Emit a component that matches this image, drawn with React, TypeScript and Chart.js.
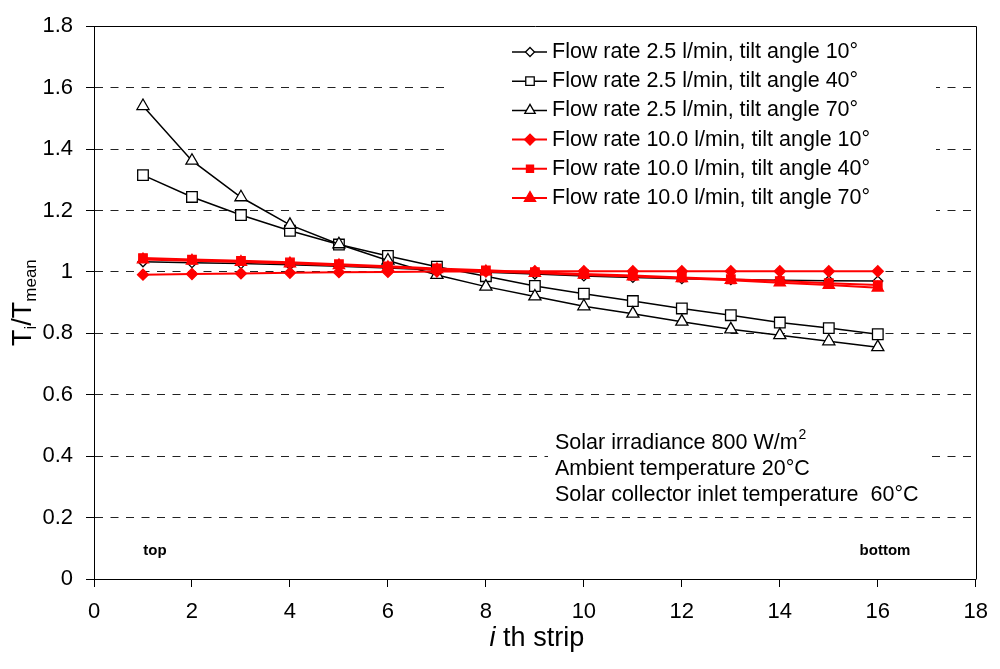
import React, { useEffect, useRef } from 'react';
import { Chart, registerables } from 'chart.js';
import { drawPoint } from 'chart.js/helpers';

Chart.register(...registerables);

const FONT = '"Liberation Sans", Arial, Helvetica, sans-serif';

// ---- data ----
const strips = [1, 2, 3, 4, 5, 6, 7, 8, 9, 10, 11, 12, 13, 14, 15, 16];
const flow25tilt10 = [1.033, 1.03, 1.027, 1.023, 1.018, 1.013, 1.006, 0.999, 0.993, 0.987, 0.982, 0.978, 0.975, 0.973, 0.971, 0.97];
const flow25tilt40 = [1.315, 1.244, 1.185, 1.134, 1.089, 1.052, 1.017, 0.986, 0.954, 0.929, 0.905, 0.881, 0.859, 0.835, 0.817, 0.797];
const flow25tilt70 = [1.54, 1.362, 1.243, 1.153, 1.09, 1.037, 0.99, 0.952, 0.92, 0.888, 0.864, 0.838, 0.813, 0.794, 0.774, 0.755];
const flow10tilt10 = [0.991, 0.993, 0.995, 0.997, 0.999, 1.0, 1.001, 1.001, 1.002, 1.002, 1.002, 1.002, 1.002, 1.002, 1.002, 1.002];
const flow10tilt40 = [1.045, 1.04, 1.036, 1.031, 1.025, 1.018, 1.011, 1.005, 0.999, 0.993, 0.988, 0.982, 0.976, 0.97, 0.963, 0.957];
const flow10tilt70 = [1.04, 1.036, 1.032, 1.027, 1.021, 1.015, 1.008, 1.001, 0.996, 0.99, 0.985, 0.979, 0.973, 0.965, 0.957, 0.948];

const seriesLabels = [
  'Flow rate 2.5 l/min, tilt angle 10°',
  'Flow rate 2.5 l/min, tilt angle 40°',
  'Flow rate 2.5 l/min, tilt angle 70°',
  'Flow rate 10.0 l/min, tilt angle 10°',
  'Flow rate 10.0 l/min, tilt angle 40°',
  'Flow rate 10.0 l/min, tilt angle 70°',
];
const seriesValues = [flow25tilt10, flow25tilt40, flow25tilt70, flow10tilt10, flow10tilt40, flow10tilt70];
const seriesStyles = ['rectRot', 'rect', 'triangle', 'rectRot', 'rect', 'triangle'];
const seriesRadius = [5, 7.5, 7, 5.5, 6, 6.5];
const legendRadius = [4.5, 6, 6, 5.5, 5, 6.5];
const seriesLine = ['#000000', '#000000', '#000000', '#ff0000', '#ff0000', '#ff0000'];
const seriesFill = ['#ffffff', '#ffffff', '#ffffff', '#ff0000', '#ff0000', '#ff0000'];

const annotationLines = ['Solar irradiance 800 W/m', 'Ambient temperature 20°C', 'Solar collector inlet temperature  60°C'];
const xTitleItalic = 'i';
const xTitleRest = ' th strip';
const topLabel = 'top';
const bottomLabel = 'bottom';

const overlayPlugin = {
  id: 'overlay',
  beforeDatasetsDraw(chart: any) {
    const { ctx, chartArea } = chart;
    ctx.save();
    // white boxes behind legend and note
    ctx.fillStyle = '#ffffff';
    ctx.fillRect(448, 28, 488, 190);
    ctx.fillRect(548, 428, 384, 78);
    // plot frame
    ctx.strokeStyle = '#000';
    ctx.lineWidth = 1;
    ctx.setLineDash([]);
    ctx.beginPath();
    const l = Math.round(chartArea.left) + 0.5;
    const r = Math.round(chartArea.right) + 0.5;
    const t = Math.round(chartArea.top) + 0.5;
    ctx.moveTo(l, t);
    ctx.lineTo(r, t);
    ctx.lineTo(r, Math.round(chartArea.bottom) + 0.5);
    ctx.stroke();
    ctx.restore();
  },
  afterDraw(chart: any) {
    const { ctx, chartArea } = chart;
    ctx.save();
    // legend
    const rowY0 = 52;
    const rowStep = 29.2;
    seriesLabels.forEach((label, i) => {
      const y = rowY0 + i * rowStep;
      ctx.strokeStyle = seriesLine[i];
      ctx.lineWidth = i < 3 ? 1.5 : 2;
      ctx.beginPath();
      ctx.moveTo(512, y);
      ctx.lineTo(547, y);
      ctx.stroke();
      ctx.fillStyle = seriesFill[i];
      ctx.strokeStyle = seriesLine[i];
      ctx.lineWidth = 1.3;
      drawPoint(ctx, { pointStyle: seriesStyles[i], radius: legendRadius[i], rotation: 0, borderWidth: 1.3 }, 530, y);
      ctx.fillStyle = '#000';
      ctx.font = `21.5px ${FONT}`;
      ctx.textBaseline = 'middle';
      ctx.textAlign = 'left';
      ctx.fillText(label, 552, y);
    });
    // note
    ctx.fillStyle = '#000';
    ctx.textBaseline = 'middle';
    annotationLines.forEach((line, i) => {
      const y = 443 + i * 26;
      ctx.font = `21.5px ${FONT}`;
      ctx.fillText(line, 555, y);
      if (i === 0) {
        const w = ctx.measureText(line).width;
        ctx.font = `14px ${FONT}`;
        ctx.fillText('2', 555 + w + 1, y - 8);
      }
    });
    // top / bottom
    ctx.font = `bold 15px ${FONT}`;
    ctx.textAlign = 'center';
    ctx.fillText(topLabel, 155, 551);
    ctx.fillText(bottomLabel, 885, 551);
    // x title
    const cx = (chartArea.left + chartArea.right) / 2 + 2;
    ctx.textBaseline = 'alphabetic';
    ctx.textAlign = 'left';
    ctx.font = `italic 27px ${FONT}`;
    const wi = ctx.measureText(xTitleItalic).width;
    ctx.font = `27px ${FONT}`;
    const wr = ctx.measureText(xTitleRest).width;
    const x0 = cx - (wi + wr) / 2;
    ctx.font = `italic 27px ${FONT}`;
    ctx.fillText(xTitleItalic, x0, 646);
    ctx.font = `27px ${FONT}`;
    ctx.fillText(xTitleRest, x0 + wi, 646);
    // y title
    const cy = (chartArea.top + chartArea.bottom) / 2;
    const parts: [string, string, number][] = [
      ['T', `27px ${FONT}`, 0],
      ['i', `17px ${FONT}`, 5],
      ['/T', `27px ${FONT}`, 0],
      ['mean', `17px ${FONT}`, 5],
    ];
    let total = 0;
    const widths = parts.map(([s, f]) => {
      ctx.font = f;
      const w = ctx.measureText(s).width;
      total += w;
      return w;
    });
    ctx.translate(31, cy);
    ctx.rotate(-Math.PI / 2);
    let px = -total / 2;
    parts.forEach(([s, f, dy], i) => {
      ctx.font = f;
      ctx.fillText(s, px, dy);
      px += widths[i];
    });
    ctx.restore();
  },
};

export default function App() {
  const canvasRef = useRef<HTMLCanvasElement | null>(null);

  useEffect(() => {
    if (!canvasRef.current) return;
    Chart.defaults.font.family = FONT;
    Chart.defaults.color = '#000';

    const datasets = seriesValues.map((vals, i) => ({
      label: seriesLabels[i],
      data: strips.map((x, j) => ({ x, y: vals[j] })),
      borderColor: seriesLine[i],
      borderWidth: i < 3 ? 1.5 : 2,
      backgroundColor: seriesFill[i],
      pointStyle: seriesStyles[i],
      pointRadius: seriesRadius[i],
      pointBorderWidth: 1.3,
      pointBackgroundColor: seriesFill[i],
      pointBorderColor: seriesLine[i],
      showLine: true,
      fill: false,
      tension: 0,
      order: 6 - i,
    }));

    const chart = new Chart(canvasRef.current, {
      type: 'scatter',
      data: { datasets },
      options: {
        animation: false,
        responsive: true,
        maintainAspectRatio: false,
        events: [],
        layout: { padding: { top: 18, right: 18, left: 0, bottom: 0 } },
        plugins: { legend: { display: false }, tooltip: { enabled: false } },
        scales: {
          x: {
            type: 'linear',
            min: 0,
            max: 18,
            ticks: { stepSize: 2, font: { size: 22 }, padding: 12, color: '#000' },
            grid: { drawOnChartArea: false, drawTicks: true, tickLength: 8, color: '#000', tickColor: '#000' },
            border: { display: true, color: '#000', width: 1 },
            afterFit: (s: any) => { s.height = 90; },
          },
          y: {
            type: 'linear',
            min: 0,
            max: 1.8,
            ticks: {
              stepSize: 0.2,
              font: { size: 22 },
              padding: 13,
              color: '#000',
              callback: (v: any) => String(Number(Number(v).toFixed(1))),
            },
            grid: {
              drawTicks: true,
              tickLength: 8,
              color: (c: any) => (c.tick && (Math.abs(c.tick.value) < 1e-9 || c.tick.value > 1.79) ? 'rgba(0,0,0,0)' : '#222'),
              tickColor: '#000',
            },
            border: { display: true, color: '#000', width: 1, dash: [8, 7.5] },
            afterFit: (s: any) => { s.width = 94; },
          },
        },
      },
      plugins: [overlayPlugin],
    } as any);

    return () => chart.destroy();
  }, []);

  return (
    <div style={{ position: 'fixed', left: 0, top: 0, width: 1000, height: 669, background: '#fff' }}>
      <canvas ref={canvasRef} />
    </div>
  );
}
